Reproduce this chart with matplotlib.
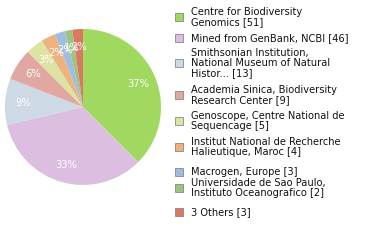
import matplotlib
matplotlib.use("Agg")
import matplotlib.pyplot as plt
from matplotlib.patches import Rectangle
import math

labels = [
    "Centre for Biodiversity\nGenomics [51]",
    "Mined from GenBank, NCBI [46]",
    "Smithsonian Institution,\nNational Museum of Natural\nHistor... [13]",
    "Academia Sinica, Biodiversity\nResearch Center [9]",
    "Genoscope, Centre National de\nSequencage [5]",
    "Institut National de Recherche\nHalieutique, Maroc [4]",
    "Macrogen, Europe [3]",
    "Universidade de Sao Paulo,\nInstituto Oceanografico [2]",
    "3 Others [3]",
]
values = [51, 46, 13, 9, 5, 4, 3, 2, 3]
colors = ['#a0d860', '#dcbfe0', '#cdd9e5', '#e0a8a0', '#dde3a2',
          '#f0b27c', '#a0bde0', '#9cc47c', '#dc7862']

W, H = 380, 240
fig = plt.figure(figsize=(W/100, H/100), dpi=100)

cx, cy, r = 83, 107, 78
ax = fig.add_axes([(cx-r)/W, (H-cy-r)/H, 2*r/W, 2*r/H])
wedges, texts, autotexts = ax.pie(
    values, colors=colors, startangle=90, counterclock=False,
    autopct=lambda p: f"{int(math.floor(p))}%", pctdistance=0.77,
    textprops=dict(color='white', fontsize=7.2, family='DejaVu Sans'),
    wedgeprops=dict(linewidth=0))
ax.set_xlim(-1, 1); ax.set_ylim(-1, 1)
ax.set_aspect('equal')
ax.axis('off')

sq_y = [17, 38, 63, 95, 121, 147, 172, 188, 212]
for lab, col, y in zip(labels, colors, sq_y):
    fig.patches.append(Rectangle((175/W, 1-(y+4)/H), 8/W, 8/H,
                                 transform=fig.transFigure, facecolor=col,
                                 edgecolor='#888888', linewidth=0.6))
    fig.text(191/W, 1-y/H, lab, fontsize=7.1, family='DejaVu Sans',
             color='#111111', va='center', ha='left', linespacing=1.02)

fig.savefig("out.png", dpi=100)
